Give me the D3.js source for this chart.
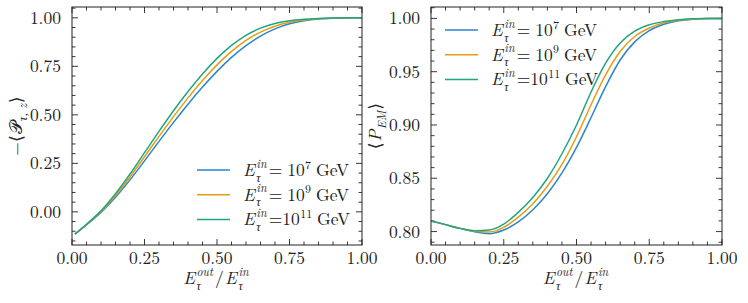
<!DOCTYPE html>
<html>
<head>
<meta charset="utf-8">
<script src="https://cdn.jsdelivr.net/npm/d3@7"></script>
<style>
  body { margin: 0; background: #fff; }
  svg text { font-family: "Latin Modern Roman", "Liberation Serif", "DejaVu Serif", serif; fill: #222; }
</style>
</head>
<body>
<svg id="chart" width="748" height="303"></svg>
<script>
// data
const energies = ['7', '9', '11'];
const colors = ['#2a86cc', '#e89c12', '#1fa583'];

const xLeft = [0.01, 0.05, 0.10, 0.15, 0.20, 0.25, 0.30, 0.35, 0.40, 0.45, 0.50,
               0.55, 0.60, 0.65, 0.70, 0.75, 0.80, 0.85, 0.90, 0.95, 1.00];
const polE7 = [-0.115, -0.067, -0.003, 0.075, 0.165, 0.263, 0.363, 0.461, 0.555, 0.643, 0.724,
               0.796, 0.857, 0.906, 0.943, 0.969, 0.985, 0.994, 0.998, 0.9995, 1.000];
const polE9 = [-0.115, -0.0655, 0.001, 0.084, 0.180, 0.284, 0.389, 0.491, 0.5875, 0.677, 0.7575,
               0.827, 0.8835, 0.9265, 0.957, 0.977, 0.989, 0.9955, 0.9985, 0.9998, 1.000];
const polE11 = [-0.115, -0.064, 0.005, 0.093, 0.195, 0.305, 0.415, 0.521, 0.620, 0.711, 0.791,
                0.858, 0.910, 0.947, 0.971, 0.985, 0.993, 0.997, 0.999, 1.000, 1.000];

const xRight = [0.00, 0.05, 0.10, 0.15, 0.20, 0.25, 0.30, 0.35, 0.40, 0.45, 0.50,
                0.55, 0.60, 0.65, 0.70, 0.75, 0.80, 0.85, 0.90, 0.95, 1.00];
const emE7 = [0.810, 0.8065, 0.803, 0.7998, 0.798, 0.8015, 0.809, 0.8205, 0.8355, 0.855, 0.879,
              0.907, 0.936, 0.961, 0.978, 0.9885, 0.9945, 0.9978, 0.9993, 0.9999, 1.000];
const emE9 = [0.810, 0.8065, 0.803, 0.8003, 0.7997, 0.804, 0.8135, 0.826, 0.8425, 0.863, 0.889,
              0.919, 0.947, 0.969, 0.983, 0.991, 0.996, 0.9982, 0.9995, 1.000, 1.000];
const emE11 = [0.810, 0.8065, 0.803, 0.8008, 0.8015, 0.807, 0.818, 0.832, 0.850, 0.873, 0.900,
               0.931, 0.958, 0.977, 0.988, 0.994, 0.997, 0.9988, 0.9997, 1.000, 1.000];

const xTicks = [0, 0.25, 0.5, 0.75, 1];
const leftYTicks = [0, 0.25, 0.5, 0.75, 1];
const rightYTicks = [0.80, 0.85, 0.90, 0.95, 1.00];

const svg = d3.select('#chart');
const FS = 17.5;

// one <text> per label; tokens with .stack put sup and sub at the same x
function mathText(sel, tokens) {
  const txt = sel.append('text');
  let x = 0;
  tokens.forEach(tk => {
    const items = tk.stack || [tk];
    let w = 0;
    items.forEach(it => {
      const t = txt.append('tspan')
        .attr('x', x)
        .attr('y', (it.dy || 0) * FS)
        .style('font-size', (it.s || 1) * FS + 'px')
        .style('font-style', it.i ? 'italic' : 'normal')
        .text(it.t);
      w = Math.max(w, t.node().getComputedTextLength());
    });
    x += w + (tk.gap || 0) * FS;
  });
  return x;
}

const Etau = sup => [
  { t: 'E', i: true, gap: 0.08 },
  { stack: [{ t: sup, i: true, s: 0.68, dy: -0.47 }, { t: 'τ', i: true, s: 0.68, dy: 0.33 }], gap: 0.12 }
];

function legendTokens(k) {
  const eq = k === '11' ? [{ t: '=10', gap: 0.02 }] : [{ t: '=', gap: 0.28 }, { t: '10', gap: 0.02 }];
  return [...Etau('in'), ...eq, { t: k, s: 0.68, dy: -0.42, gap: 0.28 }, { t: 'GeV' }];
}

function panel(opts) {
  const { x0, x1, y0, y1, yDomain, yTicks, yMinor, xs, series } = opts;
  const x = d3.scaleLinear().domain([0, 1]).range([x0, x1]);
  const y = d3.scaleLinear().domain(yDomain).range([y1, y0]);
  const g = svg.append('g');

  const xMinor = d3.range(0, 1.0001, 0.05);
  const yMin = d3.range(yMinor[0], yDomain[1], yMinor[1]).filter(v => v >= yDomain[0]);

  // ticks pointing inward on all four sides
  const tickG = g.append('g').attr('stroke', '#222').attr('stroke-width', 0.9);
  xMinor.forEach(v => {
    const major = xTicks.some(t => Math.abs(t - v) < 1e-6);
    const L = major ? 6 : 3.5;
    tickG.append('line').attr('x1', x(v)).attr('x2', x(v)).attr('y1', y1).attr('y2', y1 - L);
    tickG.append('line').attr('x1', x(v)).attr('x2', x(v)).attr('y1', y0).attr('y2', y0 + L);
  });
  yMin.forEach(v => {
    const major = yTicks.some(t => Math.abs(t - v) < 1e-6);
    const L = major ? 6 : 3.5;
    tickG.append('line').attr('y1', y(v)).attr('y2', y(v)).attr('x1', x0).attr('x2', x0 + L);
    tickG.append('line').attr('y1', y(v)).attr('y2', y(v)).attr('x1', x1).attr('x2', x1 - L);
  });

  g.selectAll('.xt').data(xTicks).enter().append('text')
    .attr('x', d => x(d)).attr('y', y1 + 19)
    .attr('text-anchor', 'middle').style('font-size', FS + 'px')
    .text(d => d3.format('.2f')(d));
  g.selectAll('.yt').data(yTicks).enter().append('text')
    .attr('x', x0 - 11).attr('y', d => y(d) + 6)
    .attr('text-anchor', 'end').style('font-size', FS + 'px')
    .text(d => d3.format('.2f')(d));

  const line = d3.line().x((d, i) => x(xs[i])).y(d => y(d)).curve(d3.curveMonotoneX);
  g.selectAll('.curve').data(series).enter().append('path')
    .attr('d', d => line(d))
    .attr('fill', 'none')
    .attr('stroke', (d, i) => colors[i])
    .attr('stroke-width', 1.5);

  g.append('rect').attr('x', x0).attr('y', y0).attr('width', x1 - x0).attr('height', y1 - y0)
    .attr('fill', 'none').attr('stroke', '#222').attr('stroke-width', 1);

  // x label
  const xl = g.append('g');
  const w = mathText(xl, [...Etau('out'), { t: '/', gap: 0.08 }, ...Etau('in')]);
  xl.attr('transform', `translate(${(x0 + x1) / 2 - w / 2},${y1 + 39})`);

  // legend
  energies.forEach((k, i) => {
    const ly = opts.legY + i * 24.7;
    g.append('line').attr('x1', opts.legX).attr('x2', opts.legX + 33)
      .attr('y1', ly).attr('y2', ly)
      .attr('stroke', colors[i]).attr('stroke-width', 1.5);
    const lg = g.append('g').attr('transform', `translate(${opts.legX + 46},${ly + 6})`);
    mathText(lg, legendTokens(k));
  });
  return g;
}

panel({
  x0: 72, x1: 362, y0: 7, y1: 245,
  yDomain: [-0.1708, 1.0558], yTicks: leftYTicks, yMinor: [-0.15, 0.05],
  xs: xLeft, series: [polE7, polE9, polE11],
  legX: 197, legY: 170
});
panel({
  x0: 431, x1: 722, y0: 7, y1: 245,
  yDomain: [0.7874, 1.0107], yTicks: rightYTicks, yMinor: [0.79, 0.01],
  xs: xRight, series: [emE7, emE9, emE11],
  legX: 445, legY: 30
});

// y labels, rotated
const yl1 = svg.append('g');
const w1 = mathText(yl1, [
  { t: '−⟨', gap: 0.05 },
  { t: '𝒫', gap: 0.02 },
  { t: 'τ, z', i: true, s: 0.68, dy: 0.3, gap: 0.05 },
  { t: '⟩' }
]);
yl1.attr('transform', `translate(22,${126 + w1 / 2}) rotate(-90)`);

const yl2 = svg.append('g');
const w2 = mathText(yl2, [
  { t: '⟨', gap: 0.05 },
  { t: 'P', i: true, gap: 0.02 },
  { t: 'EM', i: true, s: 0.68, dy: 0.3, gap: 0.05 },
  { t: '⟩' }
]);
yl2.attr('transform', `translate(381,${126 + w2 / 2}) rotate(-90)`);
</script>
</body>
</html>
